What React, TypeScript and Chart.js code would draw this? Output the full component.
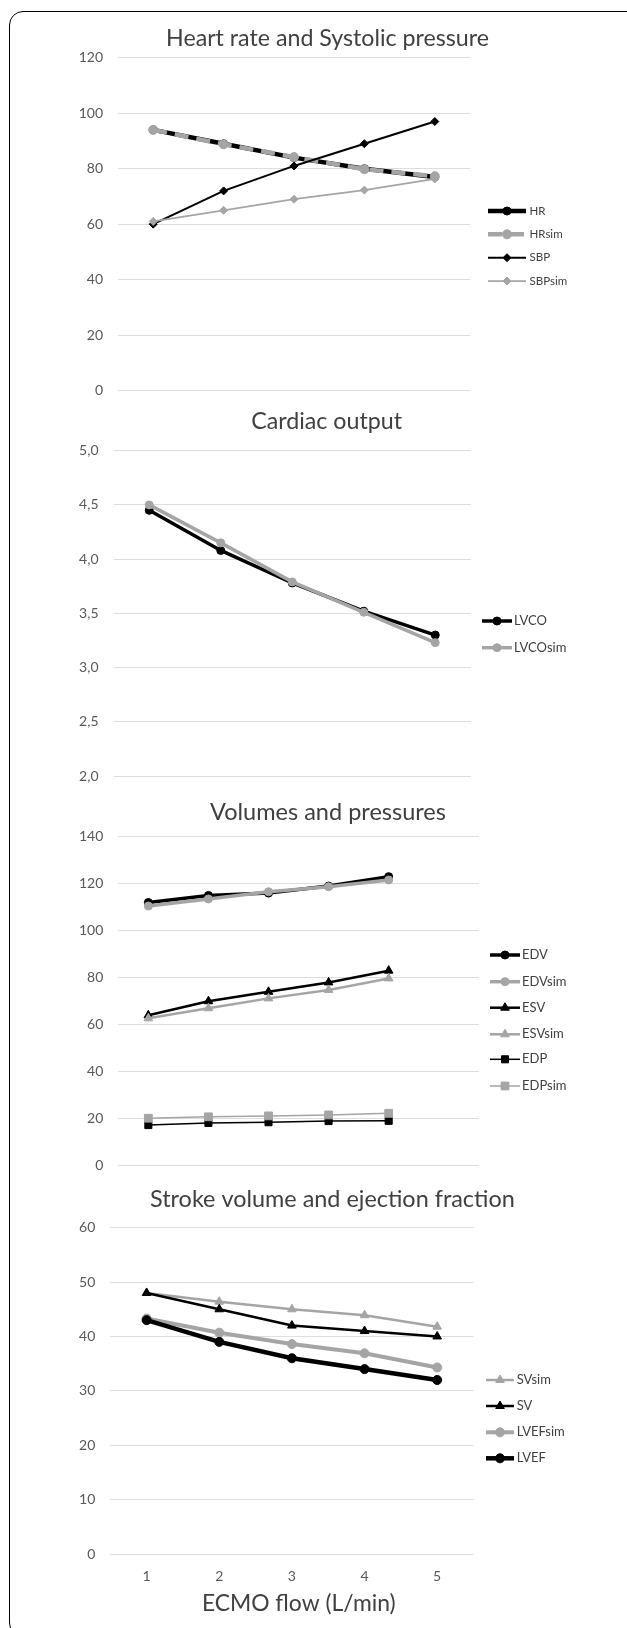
import React, { useEffect, useRef } from 'react';
import { Chart, registerables } from 'chart.js';
import { drawPoint } from 'chart.js/helpers';

Chart.register(...registerables);

const FONT = 'Lato, "Noto Sans", sans-serif';
const BLACK = '#000000';
const GRAY = '#a5a5a5';
const GRID = '#dedede';
const TICK_COLOR = '#595959';
const TEXT_COLOR = '#404040';

// ---------- data ----------
const flowLabels = ['1', '2', '3', '4', '5'];
const volumeLabels = ['1', '2', '3', '4', '5', ''];

const HR = [94, 89, 84, 80, 77];
const HRsim = [94, 88.8, 84.2, 79.8, 77.3];
const SBP = [60, 72, 81, 89, 97];
const SBPsim = [61, 65, 69, 72.3, 76.3];

const LVCO = [4.45, 4.08, 3.78, 3.52, 3.3];
const LVCOsim = [4.5, 4.15, 3.79, 3.51, 3.23];

const EDV = [112, 115, 116, 119, 123];
const EDVsim = [110.5, 113.5, 116.6, 118.7, 121.6];
const ESV = [64, 70, 74, 78, 83];
const ESVsim = [62.7, 67, 71.2, 74.8, 79.7];
const EDP = [17.3, 18.2, 18.5, 19, 19.1];
const EDPsim = [20.2, 20.8, 21.2, 21.6, 22.3];

const SVsim = [48, 46.4, 45, 43.9, 41.8];
const SV = [48, 45, 42, 41, 40];
const LVEFsim = [43.3, 40.7, 38.6, 36.9, 34.3];
const LVEF = [43, 39, 36, 34, 32];

const titles = [
  'Heart rate and Systolic pressure',
  'Cardiac output',
  'Volumes and pressures',
  'Stroke volume and ejection fraction',
];
const xAxisTitle = 'ECMO flow (L/min)';

// ---------- styling helpers ----------
type DS = {
  label: string;
  data: number[];
  color: string;
  width: number;
  style: string;
  radius: number;
  dash?: number[];
};

function mk(list: DS[]) {
  return list.map((d, i) => ({
    label: d.label,
    data: d.data,
    borderColor: d.color,
    backgroundColor: d.color,
    borderWidth: d.width,
    borderDash: d.dash || [],
    pointStyle: d.style,
    pointRadius: d.radius,
    pointBackgroundColor: d.color,
    pointBorderColor: d.color,
    pointBorderWidth: 1,
    fill: false,
    tension: 0,
    order: 20 - i,
  }));
}

interface Panel {
  key: string;
  top: number;
  height: number;
  plotTop: number;
  plotBottom: number;
  left: number;
  right: number;
  labels: string[];
  datasets: any[];
  yMin: number;
  yMax: number;
  yStep: number;
  comma?: boolean;
  title: string;
  titleX: number;
  titleBase: number;
  titleW: number;
  legend: { x0: number; x1: number; xm: number; xt: number; ys: number[]; size: number };
  xAxis?: boolean;
}

const panels: Panel[] = [
  {
    key: 'p1', top: 0, height: 400, plotTop: 57.7, plotBottom: 390.7, left: 118, right: 470,
    labels: flowLabels,
    datasets: mk([
      { label: 'HR', data: HR, color: BLACK, width: 4.5, style: 'circle', radius: 4 },
      { label: 'HRsim', data: HRsim, color: GRAY, width: 4.5, style: 'circle', radius: 4.5, dash: [14, 8] },
      { label: 'SBP', data: SBP, color: BLACK, width: 2, style: 'rectRot', radius: 4 },
      { label: 'SBPsim', data: SBPsim, color: GRAY, width: 1.75, style: 'rectRot', radius: 4 },
    ]),
    yMin: 0, yMax: 120, yStep: 20,
    title: titles[0], titleX: 327.5, titleBase: 46, titleW: 323,
    legend: { x0: 488, x1: 526, xm: 507, xt: 529.5, ys: [211, 234.3, 257.7, 281], size: 11.5 },
  },
  {
    key: 'p2', top: 400, height: 390, plotTop: 450.7, plotBottom: 776, left: 113.5, right: 471,
    labels: flowLabels,
    datasets: mk([
      { label: 'LVCO', data: LVCO, color: BLACK, width: 3.5, style: 'circle', radius: 4 },
      { label: 'LVCOsim', data: LVCOsim, color: GRAY, width: 3.5, style: 'circle', radius: 4 },
    ]),
    yMin: 2, yMax: 5, yStep: 0.5, comma: true,
    title: titles[1], titleX: 326.6, titleBase: 428.5, titleW: 151,
    legend: { x0: 482, x1: 512, xm: 497, xt: 514, ys: [621, 647.7], size: 13 },
  },
  {
    key: 'p3', top: 790, height: 390, plotTop: 836.7, plotBottom: 1165.7, left: 118.3, right: 478.8,
    labels: volumeLabels,
    datasets: mk([
      { label: 'EDV', data: EDV, color: BLACK, width: 3.5, style: 'circle', radius: 4 },
      { label: 'EDVsim', data: EDVsim, color: GRAY, width: 3.5, style: 'circle', radius: 4 },
      { label: 'ESV', data: ESV, color: BLACK, width: 2.5, style: 'triangle', radius: 5 },
      { label: 'ESVsim', data: ESVsim, color: GRAY, width: 2.5, style: 'triangle', radius: 5 },
      { label: 'EDP', data: EDP, color: BLACK, width: 1.5, style: 'rect', radius: 5 },
      { label: 'EDPsim', data: EDPsim, color: GRAY, width: 1.5, style: 'rect', radius: 5.5 },
    ]),
    yMin: 0, yMax: 140, yStep: 20,
    title: titles[2], titleX: 328, titleBase: 820, titleW: 236,
    legend: { x0: 490, x1: 520, xm: 505, xt: 522, ys: [955, 981.7, 1007.7, 1034.3, 1059.3, 1086], size: 13 },
  },
  {
    key: 'p4', top: 1180, height: 448, plotTop: 1227.7, plotBottom: 1554, left: 110.3, right: 473.5,
    labels: flowLabels,
    datasets: mk([
      { label: 'SVsim', data: SVsim, color: GRAY, width: 2.5, style: 'triangle', radius: 5 },
      { label: 'SV', data: SV, color: BLACK, width: 2.5, style: 'triangle', radius: 5 },
      { label: 'LVEFsim', data: LVEFsim, color: GRAY, width: 4, style: 'circle', radius: 4.5 },
      { label: 'LVEF', data: LVEF, color: BLACK, width: 4.5, style: 'circle', radius: 4.5 },
    ]),
    yMin: 0, yMax: 60, yStep: 10,
    title: titles[3], titleX: 332.4, titleBase: 1207, titleW: 365,
    legend: { x0: 486, x1: 514, xm: 500, xt: 516.7, ys: [1380, 1406, 1432.3, 1458.3], size: 13 },
    xAxis: true,
  },
];

const XTITLE = { x: 298.8, base: 1611, w: 194 };

function fitText(ctx: CanvasRenderingContext2D, text: string, cx: number, base: number, target: number, color: string) {
  const basePx = 20;
  ctx.font = `${basePx}px ${FONT}`;
  const w = ctx.measureText(text).width;
  const size = (basePx * target) / w;
  ctx.font = `${size}px ${FONT}`;
  ctx.fillStyle = color;
  ctx.textAlign = 'center';
  ctx.textBaseline = 'alphabetic';
  ctx.fillText(text, cx, base);
}

const decorPlugin = {
  id: 'decor',
  afterDraw(chart: any, _args: any, opts: any) {
    const ctx: CanvasRenderingContext2D = chart.ctx;
    const p: Panel = opts.panel;
    const off = p.top;
    ctx.save();
    fitText(ctx, p.title, p.titleX, p.titleBase - off, p.titleW, TEXT_COLOR);
    if (p.xAxis) {
      fitText(ctx, xAxisTitle, XTITLE.x, XTITLE.base - off, XTITLE.w, TEXT_COLOR);
    }
    const lg = p.legend;
    chart.data.datasets.forEach((ds: any, i: number) => {
      const y = lg.ys[i] - off;
      ctx.save();
      ctx.strokeStyle = ds.borderColor;
      ctx.lineWidth = ds.borderWidth;
      ctx.lineCap = 'butt';
      ctx.setLineDash(ds.borderDash || []);
      ctx.beginPath();
      ctx.moveTo(lg.x0, y);
      ctx.lineTo(lg.x1, y);
      ctx.stroke();
      ctx.setLineDash([]);
      ctx.fillStyle = ds.pointBackgroundColor;
      ctx.strokeStyle = ds.pointBorderColor;
      ctx.lineWidth = 1;
      drawPoint(ctx, { pointStyle: ds.pointStyle, radius: ds.pointRadius, rotation: 0, borderWidth: 1 } as any, lg.xm, y);
      ctx.restore();
      ctx.font = `${lg.size}px ${FONT}`;
      ctx.fillStyle = TEXT_COLOR;
      ctx.textAlign = 'left';
      ctx.textBaseline = 'middle';
      ctx.fillText(ds.label, lg.xt, y);
    });
    ctx.restore();
  },
};

function PanelChart({ p }: { p: Panel }) {
  const ref = useRef<HTMLCanvasElement | null>(null);
  useEffect(() => {
    if (!ref.current) return;
    const xHeight = p.top + p.height - p.plotBottom;
    const chart = new Chart(ref.current, {
      type: 'line',
      data: { labels: p.labels, datasets: p.datasets },
      plugins: [decorPlugin as any],
      options: {
        responsive: false,
        maintainAspectRatio: false,
        animation: false,
        devicePixelRatio: 1,
        events: [],
        layout: {
          autoPadding: false,
          padding: {
            top: p.plotTop - p.top,
            bottom: 0,
            left: 0,
            right: 627 - p.right,
          },
        },
        plugins: {
          legend: { display: false },
          title: { display: false },
          tooltip: { enabled: false },
          decor: { panel: p },
        } as any,
        scales: {
          x: {
            type: 'category',
            offset: true,
            display: true,
            grid: { display: false, drawTicks: false },
            border: { display: false },
            ticks: {
              display: !!p.xAxis,
              font: { family: FONT, size: 14 },
              color: TICK_COLOR,
              padding: 14,
              maxRotation: 0,
              autoSkip: false,
            },
            afterFit: (s: any) => {
              s.height = xHeight;
              s.paddingLeft = 0;
              s.paddingRight = 0;
            },
          },
          y: {
            min: p.yMin,
            max: p.yMax,
            grid: { color: GRID, lineWidth: 1, drawTicks: false },
            border: { display: false },
            ticks: {
              stepSize: p.yStep,
              padding: 15,
              font: { family: FONT, size: 14 },
              color: TICK_COLOR,
              callback: (v: any) => (p.comma ? Number(v).toFixed(1).replace('.', ',') : String(v)),
            },
            afterFit: (s: any) => {
              s.width = p.left;
              s.paddingTop = 0;
              s.paddingBottom = 0;
            },
          },
        },
      } as any,
    });
    return () => chart.destroy();
  }, [p]);
  return (
    <canvas
      ref={ref}
      width={627}
      height={p.height}
      style={{ position: 'absolute', left: 0, top: p.top, width: 627, height: p.height }}
    />
  );
}

export default function App() {
  return (
    <div style={{ position: 'absolute', left: 0, top: 0, width: 627, height: 1628, overflow: 'hidden', background: '#ffffff' }}>
      <div
        style={{
          position: 'absolute', left: 9, top: 11, width: 720, height: 1626,
          border: '1px solid #000', borderRadius: 14, boxSizing: 'border-box',
        }}
      />
      {panels.map((p) => (
        <PanelChart key={p.key} p={p} />
      ))}
    </div>
  );
}
